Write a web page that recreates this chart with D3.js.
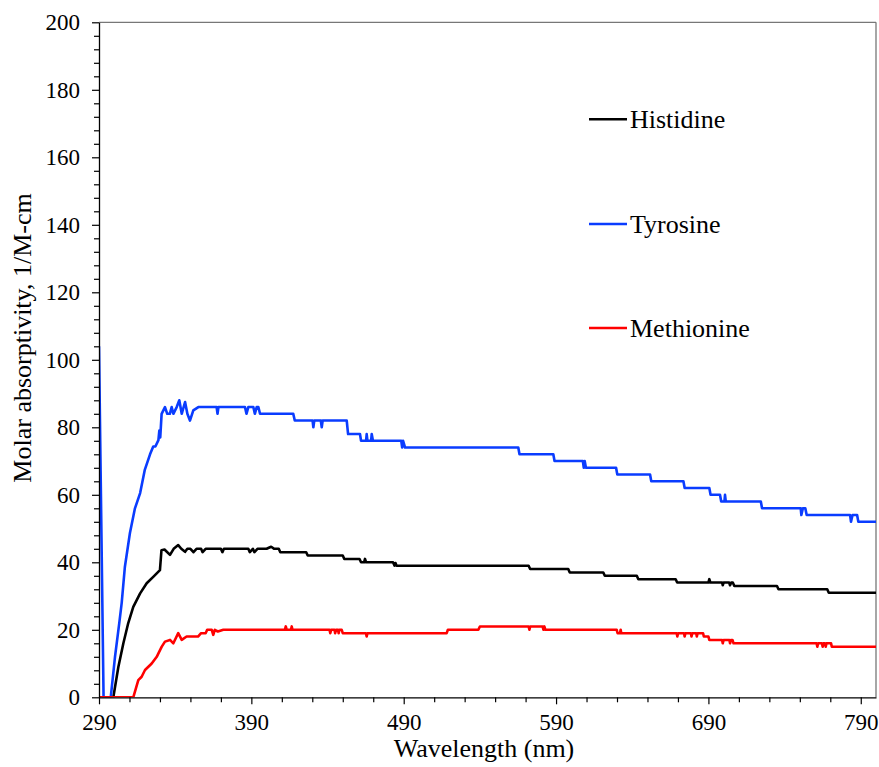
<!DOCTYPE html>
<html><head><meta charset="utf-8">
<script src="https://cdn.jsdelivr.net/npm/d3@7"></script>
<style>
html,body{margin:0;padding:0;background:#fff;}
svg{display:block;}
</style></head>
<body><svg id="chart" width="879" height="767"></svg>
<script>
// ---- data (wavelength nm, molar absorptivity 1/M-cm) ----
const xTicks = [290, 390, 490, 590, 690, 790];
const yTicks = [0, 20, 40, 60, 80, 100, 120, 140, 160, 180, 200];
const seriesNames = ["Histidine", "Tyrosine", "Methionine"];
const seriesColors = ["#000000", "#0a3cff", "#ff0000"];

const histidine = [
[290,0],[299.4,0],[302.7,9],[306,16],[309.2,22],[312.5,26.8],[317,30.8],[321.3,33.8],[325.6,35.7],[330,37.7],
[331,43.6],[333,43.8],[336.6,42.2],[339,44],[342,45.1],[344,44],[346.5,43.1],[348,44],[350,44],[352,43],[354,44],
[357,44],[358,43],[360,44],[370,44],[371,43],[372,44],[388,44],[389,43],[391,44],[392,43],[394,44],[400,44],
[403,44.6],[405,44],[408,44],[409,43],[426,43],[427,42],[450,42],[451,41],[461,41],[462,40],[464,40],[464.6,41],
[465.3,40],[483,40],[484,39],[484.6,39.8],[485.3,39],[572,39],[573,38],[598,38],[599,37],[621,37],[622,36],
[643,36],[644,35],[668.5,35],[669.5,34],[690,34],[690.6,35],[691.3,34],[699,34],[699.4,33.2],[700,34],
[703.6,34],[704.2,33.2],[705,34],[706,34],[707,33],[735,33],[736,32],[768,32],[769,31],[800,31]
];

const tyrosine = [
[290,104],[293,0],[297.7,0],[300.5,12],[303.3,22],[304.9,28],[307,38.7],[310.3,48.7],[313.6,56],[317,60.5],
[320,67.3],[323.5,72],[325.6,74.3],[327,74.3],[329,76.2],[329.6,79],[330.2,77],[331.1,84],[333.3,86],
[334.8,84],[336.5,84],[337.7,86],[338.8,84],[341,86],[342.7,88],[344.3,84],[346.5,87.5],[348,84],
[349.7,82],[351.9,85],[355.2,86],[367.2,86],[367.8,84],[368.4,86],[385.8,86],[386.8,84],[388,86],[391.3,86],
[392.3,84],[393.5,86],[394.6,86],[395.7,84],[417.5,84],[418.5,82],[430.2,82],[430.7,80],[431.3,82],
[435.6,82],[436.2,80],[436.8,82],[452.6,82],[453.5,78],[461.3,78],[462,76],[465.3,76],[465.7,78],[466.2,76],
[468.6,76],[469,78],[469.8,76],[488.4,76],[489,74],[489.6,76],[490.9,74],[565.2,74],[566,72],[588.2,72],
[589,70],[607.6,70],[608.2,68],[608.8,70],[609.6,68],[629.4,68],[630.2,66],[651.7,66],[652.5,64],
[673.6,64],[674.4,62],[690.6,62],[691.4,60],[697.6,60],[698.4,58],[700.5,58],[700.9,60],[701.4,58],
[724.4,58],[725.2,56],[750.6,56],[751,54],[752,56],[753.6,56],[754.5,54],[783,54],[783.6,52],[784.6,54],
[787.6,54],[788.4,52],[800,52]
];

const methionine = [
[290,0],[312.5,0],[315.8,5.1],[318,6.1],[320.2,8.1],[324.6,10],[327.9,12],[329,13],[331.2,15],[333.3,16.5],
[336.6,17],[338.8,16],[342,19],[344.3,17],[347.5,18],[355,18],[357,19],[360,19],[361,20],[364,20],[365,18.5],
[366,20],[368,19.5],[371.6,20],[412,20],[412.6,21],[413.2,20],[416,20],[416.5,21],[417,20],[441.3,20],
[441.8,19],[442.4,20],[444.6,20],[445,19],[445.6,20],[446.9,20],[447.3,19],[447.8,20],[449.3,20],[450,19],
[465.2,19],[465.7,18],[466.2,19],[518.2,19],[519,20],[539,20],[540,21],[572,21],[572.5,20],[573,21],
[581.2,21],[581.7,20],[582.3,21],[583,20],[629.8,20],[630.4,19],[632,19],[632.4,20],[632.8,19],
[669.2,19],[669.6,18],[670.1,19],[674,19],[674.4,18],[674.9,19],[678.5,19],[678.9,18],[679.4,19],
[682,19],[682.4,18],[682.9,19],[686.5,19],[687,18],[690,18],[690.6,17],[699,17],[699.4,16],[700,17],
[703.8,17],[704.2,16],[704.8,17],[705.8,17],[706.5,16],[761,16],[761.5,15],[762,16],[764.5,16],[765,15],
[765.5,16],[766.5,16],[767,15],[767.5,16],[770.5,16],[771,15],[800,15]
];

const seriesData = [histidine, tyrosine, methionine];
const FONT = "'Liberation Serif', 'DejaVu Serif', serif";

// ---- layout ----
const svg = d3.select("#chart").attr("font-family", FONT);
const L = 99, T = 22.3, R = 876, B = 697.3;
const x = d3.scaleLinear().domain([290, 800]).range([L, R]);
const y = d3.scaleLinear().domain([0, 200]).range([B, T]);

// plot frame (top/right in grey)
svg.append("line").attr("x1", L).attr("x2", R).attr("y1", T).attr("y2", T)
  .attr("stroke", "#777").attr("stroke-width", 1.3);
svg.append("line").attr("x1", R).attr("x2", R).attr("y1", T).attr("y2", B)
  .attr("stroke", "#777").attr("stroke-width", 1.3);

// clip
svg.append("defs").append("clipPath").attr("id", "clip")
  .append("rect").attr("x", L).attr("y", T - 2).attr("width", R - L).attr("height", B - T + 2);

const line = d3.line().x(d => x(d[0])).y(d => y(d[1]));
const g = svg.append("g").attr("clip-path", "url(#clip)");
seriesData.forEach((s, i) => {
  g.append("path").datum(s).attr("d", line)
    .attr("fill", "none").attr("stroke", seriesColors[i])
    .attr("stroke-width", 2.6).attr("stroke-linejoin", "round");
});

// minor ticks
const xMinor = d3.range(290, 801, 20).filter(v => (v - 290) % 100 !== 0);
const yMinor = d3.range(0, 201, 4).filter(v => v % 20 !== 0);

const axes = [];
axes.push(svg.append("g").attr("transform", `translate(0,${B})`)
  .call(d3.axisBottom(x).tickValues(xTicks).tickSize(7).tickSizeOuter(0).tickPadding(9).tickFormat(d3.format("d"))));
svg.append("g").attr("transform", `translate(0,${B})`)
  .call(d3.axisBottom(x).tickValues(xMinor).tickSize(5).tickSizeOuter(0).tickFormat(""))
  .select(".domain").remove();
axes.push(svg.append("g").attr("transform", `translate(${L},0)`)
  .call(d3.axisLeft(y).tickValues(yTicks).tickSize(7).tickSizeOuter(0).tickPadding(12).tickFormat(d3.format("d"))));
svg.append("g").attr("transform", `translate(${L},0)`)
  .call(d3.axisLeft(y).tickValues(yMinor).tickSize(5).tickSizeOuter(0).tickFormat(""))
  .select(".domain").remove();
axes.forEach(a => a.attr("font-family", FONT).attr("font-size", 23));

svg.selectAll(".domain").attr("stroke", "#000").attr("stroke-width", 1.3);
svg.selectAll(".tick line").attr("stroke", "#000").attr("stroke-width", 1.2);
svg.selectAll(".tick text").attr("fill", "#000");

// axis titles
svg.append("text").attr("x", 484).attr("y", 757)
  .attr("text-anchor", "middle").attr("font-size", 26).text("Wavelength (nm)");
svg.append("text").attr("transform", `translate(31,${338}) rotate(-90)`)
  .attr("text-anchor", "middle").attr("font-size", 26).text("Molar absorptivity, 1/M-cm");

// legend
const legY = [119.3, 224, 328];
seriesNames.forEach((n, i) => {
  svg.append("line").attr("x1", 589).attr("x2", 627).attr("y1", legY[i]).attr("y2", legY[i])
    .attr("stroke", seriesColors[i]).attr("stroke-width", 2.6);
  svg.append("text").attr("x", 630).attr("y", legY[i]).attr("dy", "0.35em")
    .attr("font-size", 26).text(n);
});
</script></body></html>
